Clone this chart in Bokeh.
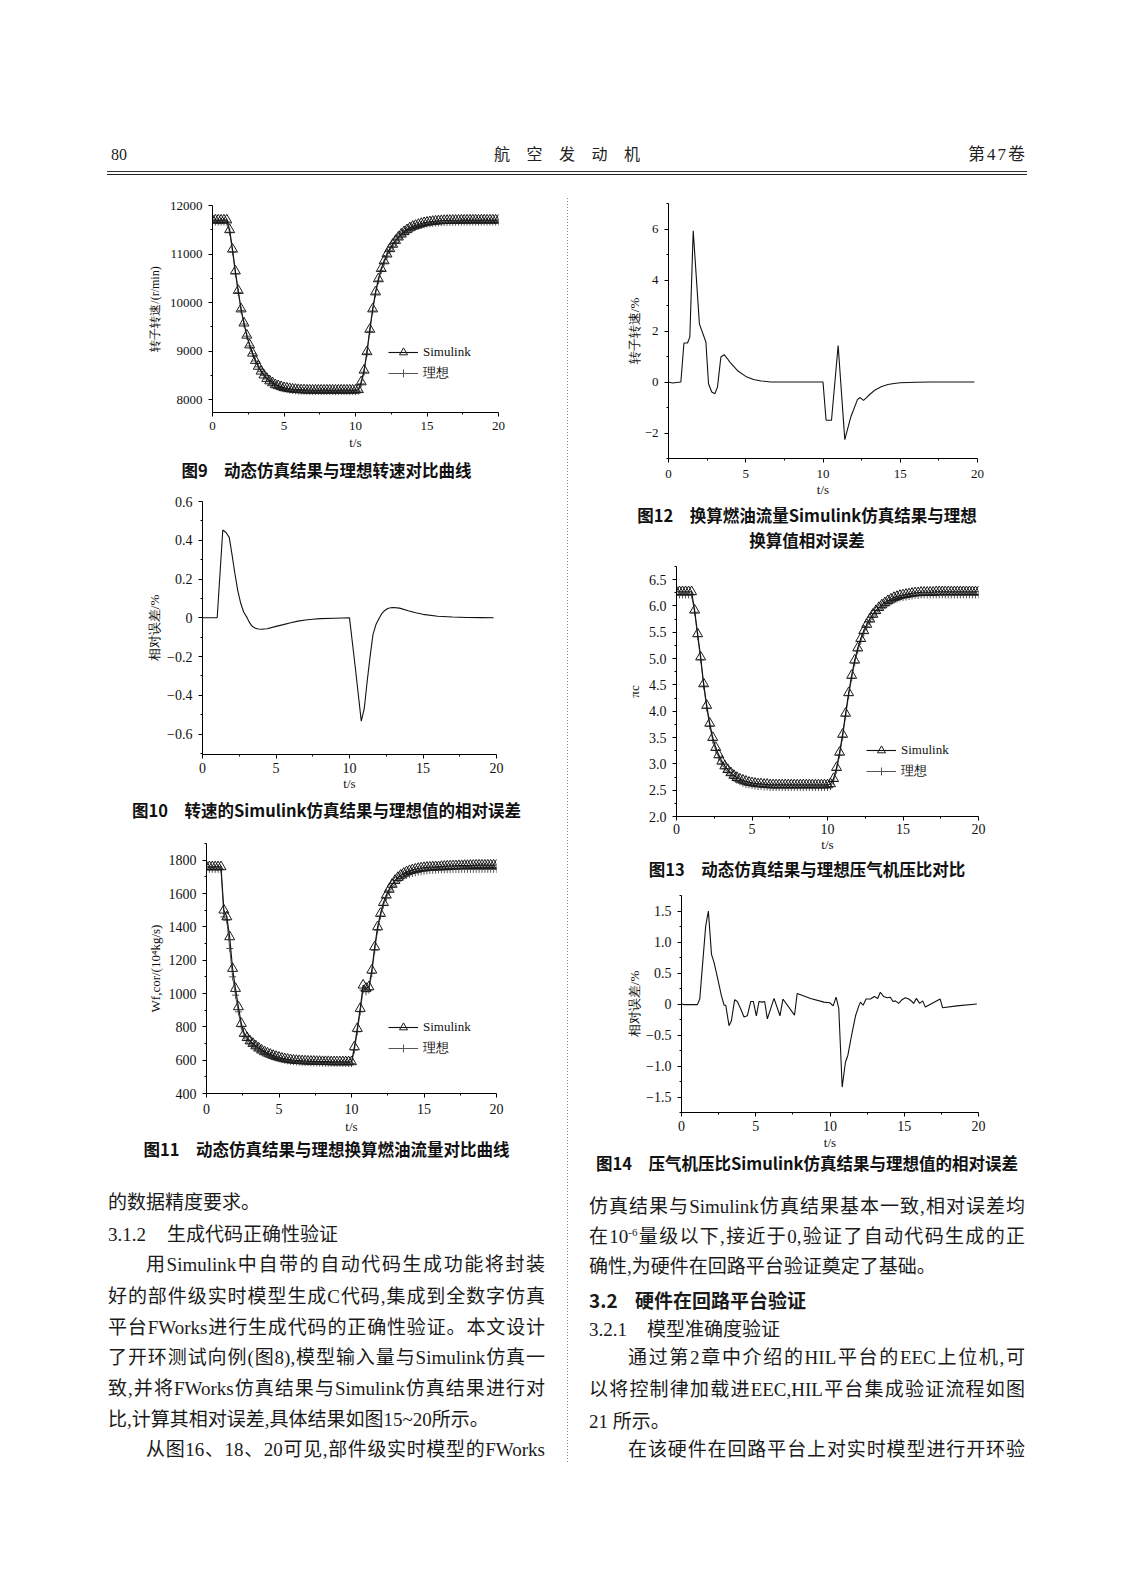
from bokeh.plotting import figure
from bokeh.models import (Div, Spacer, FixedTicker, CustomJSTickFormatter, Legend,
                          LegendItem, Range1d)
from bokeh.layouts import column, row
from bokeh.embed import file_html
from bokeh.resources import INLINE

# ---------------------------------------------------------------- data
t_grid = [0.0, 0.2, 0.4, 0.6, 0.8, 1.0, 1.2, 1.4, 1.6, 1.8,
          2.0, 2.2, 2.4, 2.6, 2.8, 3.0, 3.2, 3.4, 3.6, 3.8,
          4.0, 4.2, 4.4, 4.6, 4.8, 5.0, 5.2, 5.4, 5.6, 5.8,
          6.0, 6.2, 6.4, 6.6, 6.8, 7.0, 7.2, 7.4, 7.6, 7.8,
          8.0, 8.2, 8.4, 8.6, 8.8, 9.0, 9.2, 9.4, 9.6, 9.8,
          10.0, 10.2, 10.4, 10.6, 10.8, 11.0, 11.2, 11.4, 11.6, 11.8,
          12.0, 12.2, 12.4, 12.6, 12.8, 13.0, 13.2, 13.4, 13.6, 13.8,
          14.0, 14.2, 14.4, 14.6, 14.8, 15.0, 15.2, 15.4, 15.6, 15.8,
          16.0, 16.2, 16.4, 16.6, 16.8, 17.0, 17.2, 17.4, 17.6, 17.8,
          18.0, 18.2, 18.4, 18.6, 18.8, 19.0, 19.2, 19.4, 19.6, 19.8,
          20.0]

# Fig 9: rotor speed (r/min)
speed_sim = [11700, 11700, 11700, 11700, 11700, 11700, 11500, 11100, 10650, 10250,
             9870, 9580, 9330, 9130, 8960, 8810, 8690, 8590, 8510, 8440,
             8390, 8350, 8310, 8290, 8270, 8250, 8240, 8230, 8220, 8215,
             8210, 8205, 8205, 8200, 8200, 8200, 8200, 8200, 8200, 8200,
             8200, 8200, 8200, 8200, 8200, 8200, 8200, 8200, 8200, 8200,
             8200, 8210, 8370, 8610, 8990, 9450, 9870, 10220, 10490, 10700,
             10860, 11000, 11110, 11200, 11280, 11350, 11410, 11460, 11500, 11540,
             11570, 11590, 11610, 11630, 11645, 11655, 11665, 11672, 11678, 11683,
             11687, 11690, 11692, 11694, 11695, 11696, 11697, 11698, 11698, 11699,
             11699, 11700, 11700, 11700, 11700, 11700, 11700, 11700, 11700, 11700,
             11700]
speed_ideal = [11660, 11660, 11660, 11660, 11660, 11660, 11450, 11050, 10600, 10210,
               9840, 9560, 9310, 9110, 8950, 8800, 8680, 8580, 8500, 8430,
               8375, 8330, 8295, 8265, 8245, 8225, 8210, 8200, 8192, 8186,
               8182, 8178, 8176, 8174, 8172, 8171, 8170, 8170, 8170, 8170,
               8170, 8170, 8170, 8170, 8170, 8170, 8170, 8170, 8170, 8170,
               8170, 8180, 8330, 8570, 8950, 9410, 9830, 10180, 10450, 10660,
               10820, 10960, 11070, 11160, 11240, 11310, 11370, 11420, 11460, 11500,
               11530, 11555, 11575, 11590, 11605, 11615, 11625, 11632, 11638, 11643,
               11647, 11650, 11652, 11654, 11655, 11656, 11657, 11658, 11658, 11659,
               11659, 11660, 11660, 11660, 11660, 11660, 11660, 11660, 11660, 11660,
               11660]

# Fig 11: corrected fuel flow
fuel_sim = [1760, 1760, 1760, 1760, 1760, 1760, 1500, 1460, 1340, 1150,
            1030, 920, 820, 760, 735, 715, 700, 685, 672, 660,
            650, 642, 635, 628, 622, 617, 612, 608, 605, 602,
            600, 598, 597, 596, 595, 594, 593, 593, 592, 592,
            591, 591, 591, 590, 590, 590, 590, 590, 590, 590,
            590, 680, 790, 910, 1050, 1030, 1040, 1140, 1280, 1400,
            1480, 1545, 1590, 1625, 1655, 1678, 1696, 1710, 1721, 1730,
            1737, 1742, 1746, 1750, 1753, 1755, 1757, 1758, 1759, 1760,
            1760, 1762, 1763, 1764, 1765, 1766, 1766, 1767, 1767, 1768,
            1768, 1769, 1769, 1770, 1770, 1770, 1770, 1770, 1770, 1770,
            1770]
fuel_ideal = [1745, 1745, 1745, 1745, 1745, 1745, 1460, 1440, 1270, 1100,
              990, 890, 800, 745, 720, 702, 688, 674, 662, 651,
              641, 633, 626, 619, 613, 608, 603, 599, 596, 593,
              591, 589, 588, 587, 586, 585, 584, 584, 583, 583,
              582, 582, 582, 581, 581, 581, 581, 580, 580, 580,
              580, 660, 770, 890, 1020, 1010, 1020, 1120, 1260, 1380,
              1465, 1530, 1575, 1610, 1638, 1660, 1677, 1690, 1700, 1708,
              1715, 1720, 1724, 1728, 1731, 1734, 1736, 1738, 1739, 1740,
              1741, 1742, 1742, 1743, 1743, 1744, 1744, 1744, 1745, 1745,
              1745, 1745, 1745, 1745, 1745, 1745, 1745, 1745, 1745, 1745,
              1745]

# Fig 13: compressor pressure ratio
pr_sim = [6.27, 6.27, 6.27, 6.27, 6.27, 6.27, 5.92, 5.47, 5.03, 4.52,
          4.11, 3.77, 3.50, 3.31, 3.17, 3.05, 2.96, 2.89, 2.83, 2.78,
          2.74, 2.71, 2.69, 2.67, 2.65, 2.64, 2.63, 2.62, 2.62, 2.61,
          2.61, 2.60, 2.60, 2.60, 2.60, 2.60, 2.60, 2.60, 2.60, 2.60,
          2.60, 2.60, 2.60, 2.60, 2.60, 2.60, 2.60, 2.60, 2.60, 2.60,
          2.60, 2.62, 2.72, 2.93, 3.22, 3.56, 3.96, 4.35, 4.68, 4.97,
          5.20, 5.38, 5.53, 5.65, 5.75, 5.84, 5.91, 5.97, 6.02, 6.06,
          6.10, 6.13, 6.16, 6.18, 6.20, 6.21, 6.22, 6.23, 6.24, 6.25,
          6.25, 6.26, 6.26, 6.26, 6.26, 6.26, 6.27, 6.27, 6.27, 6.27,
          6.27, 6.27, 6.27, 6.27, 6.27, 6.27, 6.27, 6.27, 6.27, 6.27,
          6.27]
pr_ideal = [6.21, 6.21, 6.21, 6.21, 6.21, 6.21, 5.88, 5.42, 4.98, 4.48,
            4.06, 3.72, 3.45, 3.26, 3.12, 3.00, 2.91, 2.84, 2.78, 2.73,
            2.69, 2.66, 2.63, 2.61, 2.60, 2.59, 2.58, 2.57, 2.57, 2.56,
            2.56, 2.55, 2.55, 2.55, 2.55, 2.55, 2.55, 2.55, 2.55, 2.55,
            2.55, 2.55, 2.55, 2.55, 2.55, 2.55, 2.55, 2.55, 2.55, 2.55,
            2.55, 2.57, 2.67, 2.88, 3.17, 3.51, 3.91, 4.30, 4.63, 4.92,
            5.15, 5.33, 5.48, 5.60, 5.70, 5.79, 5.86, 5.92, 5.97, 6.01,
            6.05, 6.08, 6.11, 6.13, 6.15, 6.16, 6.17, 6.18, 6.19, 6.20,
            6.20, 6.21, 6.21, 6.21, 6.21, 6.21, 6.21, 6.21, 6.21, 6.21,
            6.21, 6.21, 6.21, 6.21, 6.21, 6.21, 6.21, 6.21, 6.21, 6.21,
            6.21]

# Fig 10: relative error of speed (%)
t_err10 = [0.0, 1.0, 1.38, 1.6, 1.82, 2.0, 2.2, 2.4, 2.6, 2.8,
           3.0, 3.2, 3.4, 3.6, 3.8, 4.0, 4.4, 5.0, 5.5, 6.0,
           6.5, 7.0, 7.5, 8.0, 9.0, 10.0, 10.4, 10.8, 11.0, 11.2,
           11.4, 11.6, 11.8, 12.0, 12.2, 12.4, 12.6, 12.8, 13.0, 13.4,
           14.0, 14.5, 15.0, 16.0, 17.0, 18.0, 19.0, 19.8]
err10 = [0.0, 0.0, 0.453, 0.44, 0.415, 0.33, 0.23, 0.14, 0.075, 0.03,
         0.005, -0.025, -0.045, -0.054, -0.058, -0.059, -0.056, -0.044, -0.035, -0.025,
         -0.017, -0.011, -0.007, -0.004, -0.002, 0.0, -0.26, -0.533, -0.47, -0.33,
         -0.2, -0.085, -0.035, -0.005, 0.022, 0.038, 0.048, 0.052, 0.053, 0.05,
         0.036, 0.026, 0.018, 0.008, 0.004, 0.002, 0.001, 0.0]

# Fig 12: relative error of corrected fuel flow (%)
t_err12 = [0.0, 0.26, 0.8, 1.0, 1.23, 1.38, 1.6, 2.0, 2.42, 2.59,
           2.8, 3.0, 3.17, 3.39, 3.6, 3.82, 4.0, 4.25, 4.5, 5.0,
           5.5, 6.0, 6.6, 10.0, 10.2, 10.55, 10.98, 11.41, 11.8, 12.23,
           12.4, 12.62, 12.8, 13.0, 13.4, 13.8, 14.2, 14.6, 15.0, 16.0,
           17.0, 19.8]
err12 = [0.0, -0.04, 0.0, 1.53, 1.53, 1.76, 5.93, 2.28, 1.57, -0.07,
         -0.39, -0.46, -0.2, 0.98, 1.07, 0.91, 0.76, 0.59, 0.43, 0.22,
         0.1, 0.04, 0.0, 0.0, -1.5, -1.5, 1.43, -2.26, -1.37, -0.69,
         -0.61, -0.72, -0.62, -0.5, -0.3, -0.18, -0.1, -0.06, -0.03, -0.01,
         0.0, 0.0]

# Fig 14: relative error of pressure ratio (%)
t_err14 = [0.0, 0.18, 1.07, 1.23, 1.63, 1.81, 2.02, 2.19, 2.42, 2.69,
           2.87, 2.98, 3.2, 3.36, 3.58, 3.76, 3.99, 4.21, 4.43, 4.66,
           4.84, 5.04, 5.22, 5.42, 5.6, 5.78, 6.23, 6.63, 6.83, 7.61,
           7.79, 8.69, 9.59, 9.99, 10.21, 10.41, 10.59, 10.82, 11.04, 11.2,
           11.49, 11.72, 11.94, 12.05, 12.23, 12.43, 12.72, 12.99, 13.21, 13.39,
           13.62, 13.84, 14.06, 14.24, 14.4, 14.62, 14.85, 15.07, 15.3, 15.52,
           15.63, 15.81, 16.04, 16.24, 16.42, 17.42, 17.58, 18.54, 19.89]
err14 = [0.0, -0.01, -0.01, 0.08, 1.26, 1.5, 0.8, 0.67, 0.43, 0.13,
         -0.02, -0.02, -0.35, -0.27, 0.07, 0.04, -0.08, -0.21, -0.19, 0.04,
         0.04, -0.19, 0.04, 0.03, 0.04, -0.24, 0.09, -0.19, 0.08, -0.18,
         0.17, 0.09, 0.03, 0.02, -0.03, 0.11, -0.07, -1.34, -0.94, -0.83,
         -0.46, -0.19, -0.03, 0.03, -0.02, 0.08, 0.08, 0.12, 0.09, 0.19,
         0.12, 0.1, 0.11, 0.04, 0.05, 0.01, 0.07, 0.1, 0.08, 0.04,
         0.01, 0.09, 0.01, 0.05, -0.05, 0.08, -0.06, -0.03, 0.0]

x_ticks = [0, 5, 10, 15, 20]
x_minor = [2.5, 7.5, 12.5, 17.5]

# ---------------------------------------------------------------- helpers
SERIF = "Liberation Serif"
CSS_SERIF = "'Liberation Serif','Noto Sans CJK SC',serif"
CSS_SANS = "'Noto Sans CJK SC','Liberation Sans',sans-serif"


def make_fmt(d):
    return CustomJSTickFormatter(args=dict(d=d), code="""
        if (Math.abs(tick) < 1e-9) { return "0"; }
        const s = Math.abs(tick).toFixed(d);
        return (tick < 0 ? "\\u2212" : "") + s;
    """)


def make_fig(w, h, l, r, t, b, yr, yticks, yminor, ydec, ylabel,
             ylab_std, xtick_std, xlab_std, tick_fs, lab_fs="13px"):
    p = figure(width=w, height=h, min_border_left=l, min_border_right=r,
               min_border_top=t, min_border_bottom=b,
               x_range=Range1d(0, 20), y_range=Range1d(*yr),
               output_backend="svg", toolbar_location=None, margin=0)
    p.outline_line_color = None
    p.xgrid.visible = False
    p.ygrid.visible = False
    p.background_fill_color = "white"
    p.border_fill_color = "white"
    p.xaxis.ticker = FixedTicker(ticks=x_ticks, minor_ticks=x_minor)
    p.yaxis.ticker = FixedTicker(ticks=yticks, minor_ticks=yminor)
    p.xaxis.formatter = make_fmt(0)
    p.yaxis.formatter = make_fmt(ydec)
    p.xaxis.axis_label = "t/s"
    p.yaxis.axis_label = ylabel
    for ax in p.axis:
        ax.axis_line_color = "black"
        ax.axis_line_width = 1
        ax.major_tick_line_color = "black"
        ax.major_tick_out = 4
        ax.major_tick_in = 0
        ax.minor_tick_line_color = "black"
        ax.minor_tick_out = 2
        ax.minor_tick_in = 0
        ax.major_label_text_font = SERIF
        ax.major_label_text_font_size = tick_fs
        ax.major_label_text_color = "#111"
        ax.axis_label_text_font = SERIF
        ax.axis_label_text_font_size = "13px"
        ax.axis_label_text_font_style = "normal"
        ax.axis_label_text_color = "#111"
    p.yaxis.axis_label_text_font_size = lab_fs
    p.yaxis.major_label_standoff = 6
    p.yaxis.axis_label_standoff = ylab_std
    p.xaxis.major_label_standoff = xtick_std
    p.xaxis.axis_label_standoff = xlab_std
    return p


def add_pair(p, t, y_sim, y_ideal, loc):
    l_id = p.line(t, y_ideal, line_color="#555", line_width=1)
    s_id = p.scatter(t, y_ideal, marker="cross", size=7, line_color="#555", line_width=1)
    l_sim = p.line(t, y_sim, line_color="#111", line_width=1.1)
    s_sim = p.scatter(t, y_sim, marker="triangle", size=10, fill_color=None,
                      line_color="#1a1a1a", line_width=1)
    leg = Legend(items=[LegendItem(label="Simulink", renderers=[l_sim, s_sim]),
                        LegendItem(label="理想", renderers=[l_id, s_id])],
                 location=loc)
    leg.padding = 0
    leg.margin = 0
    leg.spacing = 1
    leg.glyph_width = 30
    leg.glyph_height = 20
    leg.label_height = 20
    leg.label_standoff = 5
    leg.border_line_color = None
    leg.background_fill_alpha = 0
    leg.label_text_font = SERIF
    leg.label_text_font_size = "13px"
    leg.label_text_color = "#111"
    p.add_layout(leg)


def absdiv(left, top, width, height, content, extra=""):
    return (f'<div style="position:absolute;left:{left}px;top:{top}px;width:{width}px;'
            f'height:{height}px;line-height:{height}px;{extra}">{content}</div>')


def make_div(html, w, h):
    return Div(text=f'<div style="position:relative;width:{w}px;height:{h}px;">{html}</div>',
               width=w, height=h, margin=0)


def cap_div(width, height, left, textw, lines):
    inner = "".join(
        absdiv(left, c - 10, textw, 20, h,
               f"text-align:center;font-family:{CSS_SANS};font-weight:bold;"
               f"font-size:16.5px;color:#111;white-space:nowrap;")
        for c, h in lines)
    return make_div(inner, width, height)


def solo(p):
    # wrap a plot on its own so that its frame is not aligned with its neighbours
    return row(p, margin=0)


# ---------------------------------------------------------------- left column (x 8..560, y from 190)
f9 = make_fig(552, 268, 204, 62, 15, 46, (7740, 12000),
              [8000, 9000, 10000, 11000, 12000], [8500, 9500, 10500, 11500],
              0, "转子转速/(r/min)", 5, 5, 2, "13px", "12px")
add_pair(f9, t_grid, speed_sim, speed_ideal, (176, 29))

f10 = make_fig(552, 316, 194, 64, 19, 44, (-0.705, 0.6),
               [-0.6, -0.4, -0.2, 0, 0.2, 0.4, 0.6],
               [-0.7, -0.5, -0.3, -0.1, 0.1, 0.3, 0.5],
               1, "相对误差/%", 2, 4, 0, "14px")
f10.line(t_err10, err10, line_color="#111", line_width=1.1)

f11 = make_fig(552, 316, 198, 64, 20, 46, (400, 1900),
               [400, 600, 800, 1000, 1200, 1400, 1600, 1800],
               [500, 700, 900, 1100, 1300, 1500, 1700, 1900],
               0, "Wf,cor/(10⁴kg/s)", 3, 6, 2, "14px")
add_pair(f11, t_grid, fuel_sim, fuel_ideal, (182, 35))

cap9 = cap_div(552, 24, 100, 437, [(12, "图9&emsp;动态仿真结果与理想转速对比曲线")])
cap10 = cap_div(552, 25, 100, 437, [(12, "图10&emsp;转速的Simulink仿真结果与理想值的相对误差")])
cap11 = cap_div(552, 27, 100, 437, [(10, "图11&emsp;动态仿真结果与理想换算燃油流量对比曲线")])

left_col = column(solo(f9), cap9, solo(f10), cap10, solo(f11), cap11,
                  Spacer(width=552, height=10, margin=0), margin=0)

# ---------------------------------------------------------------- right column (x 576..1126)
f12 = make_fig(550, 314, 92, 149, 13, 46, (-3, 7),
               [-2, 0, 2, 4, 6], [-3, -1, 1, 3, 5, 7],
               0, "转子转速/%", 0, 7, 1, "13px")
f12.line(t_err12, err12, line_color="#111", line_width=1.1)

f13 = make_fig(550, 303, 100, 148, 11, 42, (2.0, 6.75),
               [2.0, 2.5, 3.0, 3.5, 4.0, 4.5, 5.0, 5.5, 6.0, 6.5],
               [2.25, 2.75, 3.25, 3.75, 4.25, 4.75, 5.25, 5.75, 6.25, 6.75],
               1, "πc", 4, 3, 0, "14px")
add_pair(f13, t_grid, pr_sim, pr_ideal, (190, 35))

f14 = make_fig(550, 272, 105, 148, 13, 42, (-1.75, 1.75),
               [-1.5, -1.0, -0.5, 0, 0.5, 1.0, 1.5],
               [-1.75, -1.25, -0.75, -0.25, 0.25, 0.75, 1.25, 1.75],
               1, "相对误差/%", 1, 4, 1, "14px")
f14.line(t_err14, err14, line_color="#111", line_width=1.1)

cap12 = cap_div(550, 51, 13, 436, [(11, "图12&emsp;换算燃油流量Simulink仿真结果与理想"),
                                   (36, "换算值相对误差")])
cap13 = cap_div(550, 24, 13, 436, [(11, "图13&emsp;动态仿真结果与理想压气机压比对比")])
cap14 = cap_div(550, 22, 13, 436, [(9, "图14&emsp;压气机压比Simulink仿真结果与理想值的相对误差")])

right_col = column(solo(f12), cap12, solo(f13), cap13, solo(f14), cap14, margin=0)

# ---------------------------------------------------------------- separator
DOTS = ("background:repeating-linear-gradient(to bottom,#888 0px,#888 1px,"
        "transparent 1px,transparent 3px);")
sep = make_div(f'<div style="position:absolute;left:7px;top:8px;width:1px;height:978px;{DOTS}"></div>',
               16, 986)

# ---------------------------------------------------------------- header (page coords)
hstyle = f"font-family:{CSS_SERIF};font-size:16px;color:#222;white-space:nowrap;"
title_chars = "".join(f"<span>{c}</span>" for c in "航空发动机")
header = make_div(
    absdiv(111, 145, 60, 20, "80", hstyle)
    + absdiv(494, 145, 146, 20, title_chars, hstyle + "display:flex;justify-content:space-between;")
    + absdiv(887, 145, 140, 20, "第47卷",
             hstyle + "font-size:17px;letter-spacing:2px;text-align:right;")
    + '<div style="position:absolute;left:107px;top:171px;width:920px;height:0;border-top:1px solid #333;"></div>'
    + '<div style="position:absolute;left:107px;top:174px;width:920px;height:0;border-top:1.6px solid #222;"></div>',
    1126, 190)

# ---------------------------------------------------------------- body text (page coords)
BODY_TOP = 1176


def body_line(x, yc, w, html, just=True, indent=0, extra=""):
    top = round(yc - BODY_TOP - 12, 1)
    st = (f"font-family:{CSS_SERIF};font-size:19px;color:#1a1a1a;"
          + ("text-align:justify;text-align-last:justify;" if just else "text-align:left;")
          + extra)
    return absdiv(x + indent, top, w - indent, 24, html, st)


LX, LW = 108, 437
RX, RW = 589, 436
BOLD = f"font-family:{CSS_SANS};font-weight:bold;"
sup6 = '<sup style="font-size:11px;line-height:0;">-6</sup>'
lines = [
    body_line(LX, 1203, LW, "的数据精度要求。", False),
    body_line(LX, 1235, 60, "3.1.2", False),
    body_line(167, 1235, 300, "生成代码正确性验证", False),
    body_line(LX, 1265, LW, "用Simulink中自带的自动代码生成功能将封装", True, 38),
    body_line(LX, 1296.7, LW, "好的部件级实时模型生成C代码,集成到全数字仿真"),
    body_line(LX, 1327.7, LW, "平台FWorks进行生成代码的正确性验证。本文设计"),
    body_line(LX, 1358, LW, "了开环测试向例(图8),模型输入量与Simulink仿真一"),
    body_line(LX, 1389, LW, "致,并将FWorks仿真结果与Simulink仿真结果进行对"),
    body_line(LX, 1420, LW, "比,计算其相对误差,具体结果如图15~20所示。", False),
    body_line(LX, 1450, LW, "从图16、18、20可见,部件级实时模型的FWorks", True, 38),
    body_line(RX, 1206.7, RW, "仿真结果与Simulink仿真结果基本一致,相对误差均"),
    body_line(RX, 1236.7, RW, f"在10{sup6}量级以下,接近于0,验证了自动代码生成的正"),
    body_line(RX, 1266.7, RW, "确性,为硬件在回路平台验证奠定了基础。", False),
    body_line(RX, 1300, 60, "3.2", False, 0, BOLD),
    body_line(635, 1300, 300, "硬件在回路平台验证", False, 0, BOLD),
    body_line(RX, 1330, 60, "3.2.1", False),
    body_line(647, 1330, 300, "模型准确度验证", False),
    body_line(RX, 1358, RW, "通过第2章中介绍的HIL平台的EEC上位机,可", True, 39),
    body_line(RX, 1390, RW, "以将控制律加载进EEC,HIL平台集成验证流程如图"),
    body_line(RX, 1421.7, RW, "21 所示。", False),
    body_line(RX, 1450, RW, "在该硬件在回路平台上对实时模型进行开环验", True, 39),
]
sep2 = f'<div style="position:absolute;left:567px;top:0px;width:1px;height:286px;{DOTS}"></div>'
body = make_div(sep2 + "".join(lines), 1126, 304)

# ---------------------------------------------------------------- page
page = column(header,
              row(Spacer(width=8, height=986, margin=0), left_col, sep, right_col, margin=0),
              body, margin=0)

open("out.html", "w").write(file_html(page, INLINE, title="航空发动机"))
